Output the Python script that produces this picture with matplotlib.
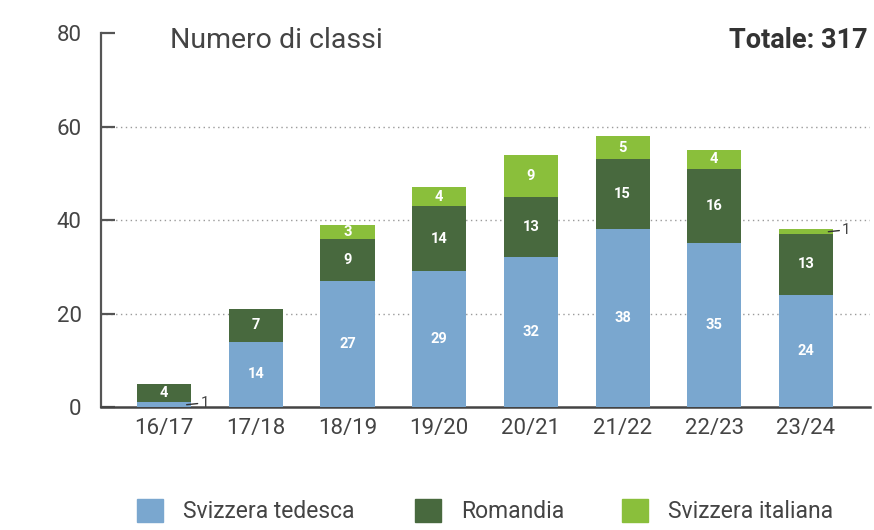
import matplotlib
matplotlib.use("Agg")
import matplotlib.pyplot as plt
from matplotlib.patches import Patch
import numpy as np

plt.rcParams["font.family"] = ["Roboto", "DejaVu Sans"]

seasons = ["16/17", "17/18", "18/19", "19/20", "20/21", "21/22", "22/23", "23/24"]
tedesca = [1, 14, 27, 29, 32, 38, 35, 24]
romandia = [4, 7, 9, 14, 13, 15, 16, 13]
italiana = [0, 0, 3, 4, 9, 5, 4, 1]
series_names = ["Svizzera tedesca", "Romandia", "Svizzera italiana"]
colors = ["#7aa7cf", "#48693e", "#8abf3b"]
title = "Numero di classi"
total_label = "Totale: {}".format(sum(tedesca) + sum(romandia) + sum(italiana))

TEXT = "#444444"

fig = plt.figure(figsize=(8.74, 5.3), dpi=100)
ax = fig.add_axes([0.1155, 0.232, 0.88, 0.7057])

x = np.arange(len(seasons))
width = 0.59
bottom = np.zeros(len(seasons))
for vals, name, col in zip([tedesca, romandia, italiana], series_names, colors):
    vals = np.array(vals, dtype=float)
    ax.bar(x, vals, width, bottom=bottom, color=col, label=name, zorder=3)
    for xi, b, v in zip(x, bottom, vals):
        if v == 0:
            continue
        if v >= 3:
            ax.text(xi, b + v / 2, str(int(v)), ha="center", va="center",
                    color="white", fontsize=10.5, fontweight="bold", zorder=4)
        else:
            # small segment: label outside with a short leader line
            ax.annotate(str(int(v)), (xi + width / 2 - 0.05, b + v / 2),
                        xytext=(xi + width / 2 + 0.1, b + v / 2 + 0.4),
                        ha="left", va="center", color=TEXT, fontsize=11,
                        arrowprops=dict(arrowstyle="-", color="#333333", lw=1,
                                        shrinkA=0, shrinkB=0),
                        zorder=5)
    bottom += vals

ax.set_xlim(-0.69, 7.7)
ax.set_ylim(0, 80)
ax.set_yticks([0, 20, 40, 60, 80])
ax.set_xticks(x)
ax.set_xticklabels(seasons)
for y in [20, 40, 60]:
    ax.axhline(y, color="#9a9a9a", lw=1, ls=(0, (1, 2.5)), zorder=1)

for s in ["top", "right"]:
    ax.spines[s].set_visible(False)
ax.spines["left"].set_color("#555555")
ax.spines["left"].set_linewidth(1.6)
ax.spines["bottom"].set_color("#444444")
ax.spines["bottom"].set_linewidth(1.8)
ax.tick_params(axis="y", direction="in", length=10, width=1.6, color="#555555",
               labelsize=16, labelcolor=TEXT, pad=14)
ax.tick_params(axis="x", length=0, labelsize=16, labelcolor=TEXT, pad=8)

ax.text(0.0897, 0.981, title, transform=ax.transAxes, fontsize=20.5,
        color=TEXT, va="center", ha="left")
ax.text(0.997, 0.981, total_label, transform=ax.transAxes, fontsize=19.5,
        fontweight="bold", color="#333333", va="center", ha="right")

# legend: one entry per anchor so the spacing follows the reference
legend_x = [137 / 874, 415 / 874, 622 / 874]
for name, col, lx in zip(series_names, colors, legend_x):
    leg = fig.legend(handles=[Patch(color=col, label=name)], loc="center left",
                     bbox_to_anchor=(lx, 0.036), frameon=False, fontsize=16.5,
                     handlelength=1.15, handleheight=1.2, handletextpad=0.85,
                     borderpad=0, borderaxespad=0, labelcolor=TEXT)

fig.savefig("out.png", dpi=100)
